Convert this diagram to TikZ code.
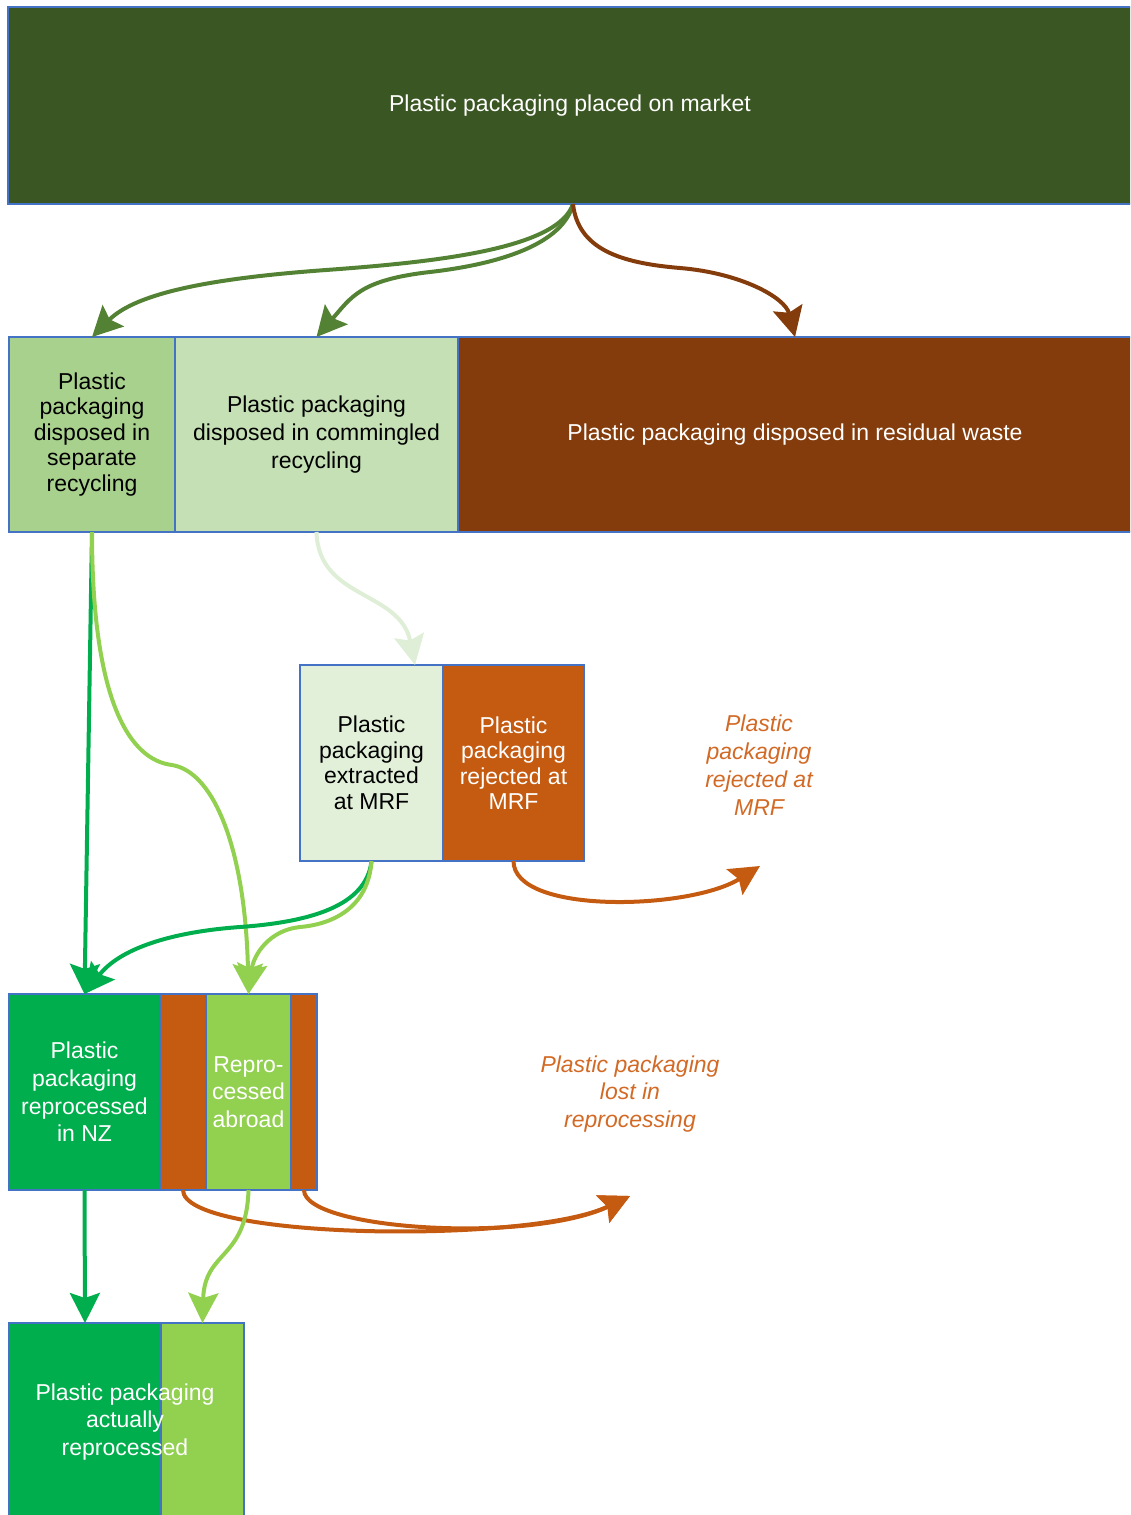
\documentclass[tikz,border=0pt]{standalone}
\usepackage{fontspec}
\setmainfont{Liberation Sans}
\usetikzlibrary{positioning}
\usetikzlibrary{arrows.meta}

\definecolor{boxline}{HTML}{4472C4}
\definecolor{marketcol}{HTML}{3A5623}
\definecolor{separatecol}{HTML}{A9D18E}
\definecolor{commingledcol}{HTML}{C5E0B4}
\definecolor{residualcol}{HTML}{843C0C}
\definecolor{extractedcol}{HTML}{E2F0D9}
\definecolor{rejectcol}{HTML}{C55A11}
\definecolor{nzcol}{HTML}{00AE4D}
\definecolor{abroadcol}{HTML}{92D050}
\definecolor{topflow}{HTML}{548235}
\definecolor{paleflow}{HTML}{DFEED6}
\definecolor{notecol}{HTML}{D26A26}

\begin{document}
\begin{tikzpicture}[x=0.5pt, y=-0.5pt, every node/.style={inner sep=0, outer sep=0, font=\fontsize{11.5}{13.8}\selectfont}, align=center, node distance=0,
	box/.style={draw=boxline, line width=0.75pt, minimum height=98pt},
	flow/.style={line width=2pt, -{Stealth[length=15pt, width=15pt, inset=2.5pt]}},
	note/.style={text=notecol, font=\fontsize{11.5}{13.9}\selectfont\itshape}]
		
		\useasboundingbox (0,0) rectangle (1130,1515);
		\clip (0,0) rectangle (1130,1515);
		
		%Nodes
		\node[box, fill=marketcol, text=white, minimum width=562pt, minimum height=98.5pt, anchor=north west] (market) at (8,7) {Plastic packaging placed on market};
		
		\node[box, fill=separatecol, minimum width=83pt, minimum height=97.5pt, anchor=north west, font=\fontsize{11.5}{12.75}\selectfont] (separate) at (9,337) {Plastic\\packaging\\disposed in\\separate\\recycling};
		\node[box, fill=commingledcol, minimum width=141.5pt, minimum height=97.5pt] (commingled) [right=of separate] {Plastic packaging\\disposed in commingled\\recycling};
		\node[box, fill=residualcol, text=white, minimum width=337pt, minimum height=97.5pt] (residual) [right=of commingled] {Plastic packaging disposed in residual waste};
		
		\node[box, fill=extractedcol, minimum width=71.5pt, anchor=north west, font=\fontsize{11.5}{12.75}\selectfont] (extracted) at (300,665) {Plastic\\packaging\\extracted\\at MRF};
		\node[box, fill=rejectcol, text=white, minimum width=70.5pt, font=\fontsize{11.5}{12.75}\selectfont] (rejected) [right=of extracted] {Plastic\\packaging\\rejected at\\MRF};
		\node[note] (rejectedNote) at (759,765) {Plastic\\packaging\\rejected at\\MRF};
		
		\node[box, fill=nzcol, text=white, minimum width=75.5pt, anchor=north west] (reprocNZ) at (9,994) {Plastic\\packaging\\reprocessed\\in NZ};
		\node[box, fill=rejectcol, minimum width=23pt] (lostA) [right=of reprocNZ] {};
		\node[box, fill=abroadcol, text=white, minimum width=42.5pt] (abroad) [right=of lostA] {Repro-\\cessed\\abroad};
		\node[box, fill=rejectcol, minimum width=13pt] (lostB) [right=of abroad] {};
		\node[note] (lostNote) at (630,1094) {Plastic packaging\\lost in\\reprocessing};
		
		\node[box, fill=nzcol, minimum width=76pt, minimum height=99pt, anchor=north west] (actualNZ) at (9,1323) {};
		\node[box, fill=abroadcol, minimum width=41.5pt, minimum height=99pt] (actualAbroad) [right=of actualNZ] {};
		\node[text=white] (actualText) at (125,1422) {Plastic packaging\\actually\\reprocessed};
		
		%Bends
		\coordinate (sepMid) at (326,270);
		\coordinate (comMid) at (430,272);
		\coordinate (resMid) at (680,268);
		\coordinate (sepBend) at (172,765);
		\coordinate (nzMid) at (240,927);
		\coordinate (abrMid) at (300,927);
		\coordinate (rejEnd) at (760,866);
		\coordinate (lostEnd) at (630,1196);
		
		%Lines
		\draw[flow, topflow] ([xshift=1.5pt]market.south) .. controls +(-15,45) and +(110,-8) .. (sepMid) .. controls +(-110,8) and +(45,-45) .. (separate.north);
		\draw[flow, topflow] ([xshift=1.5pt]market.south) .. controls +(-10,40) and +(70,-8) .. (comMid) .. controls +(-70,8) and +(35,-40) .. (commingled.north);
		\draw[flow, residualcol] ([xshift=1.5pt]market.south) .. controls +(5,45) and +(-60,-5) .. (resMid) .. controls +(60,5) and +(-10,-40) .. (residual.north);
		\draw[flow, paleflow] (commingled.south) .. controls +(2,68) and +(-15,-75) .. ([xshift=-14pt]extracted.north east);
		\draw[flow, nzcol] (separate.south) -- (reprocNZ.north);
		\draw[flow, abroadcol] (separate.south) .. controls +(0,170) and +(-42,-5) .. (sepBend) .. controls +(43,7) and +(-3,-142) .. (abroad.north);
		\draw[flow, nzcol] (extracted.south) .. controls +(-5,45) and +(70,-5) .. (nzMid) .. controls +(-70,5) and +(35,-45) .. (reprocNZ.north);
		\draw[flow, abroadcol] (extracted.south) .. controls +(-3,45) and +(35,-3) .. (abrMid) .. controls +(-30,3) and +(5,-40) .. (abroad.north);
		\draw[flow, rejectcol] (rejected.south) .. controls +(0,54) and +(-70,44) .. (rejEnd);
		\draw[flow, rejectcol] (lostA.south) .. controls +(0,50) and +(-100,48) .. (lostEnd);
		\draw[flow, rejectcol] (lostB.south) .. controls +(0,40) and +(-100,48) .. (lostEnd);
		\draw[flow, nzcol] (reprocNZ.south) -- (actualNZ.north);
		\draw[flow, abroadcol] (abroad.south) .. controls +(-2,70) and +(2,-73) .. (actualAbroad.north);
	\end{tikzpicture}
\end{document}
